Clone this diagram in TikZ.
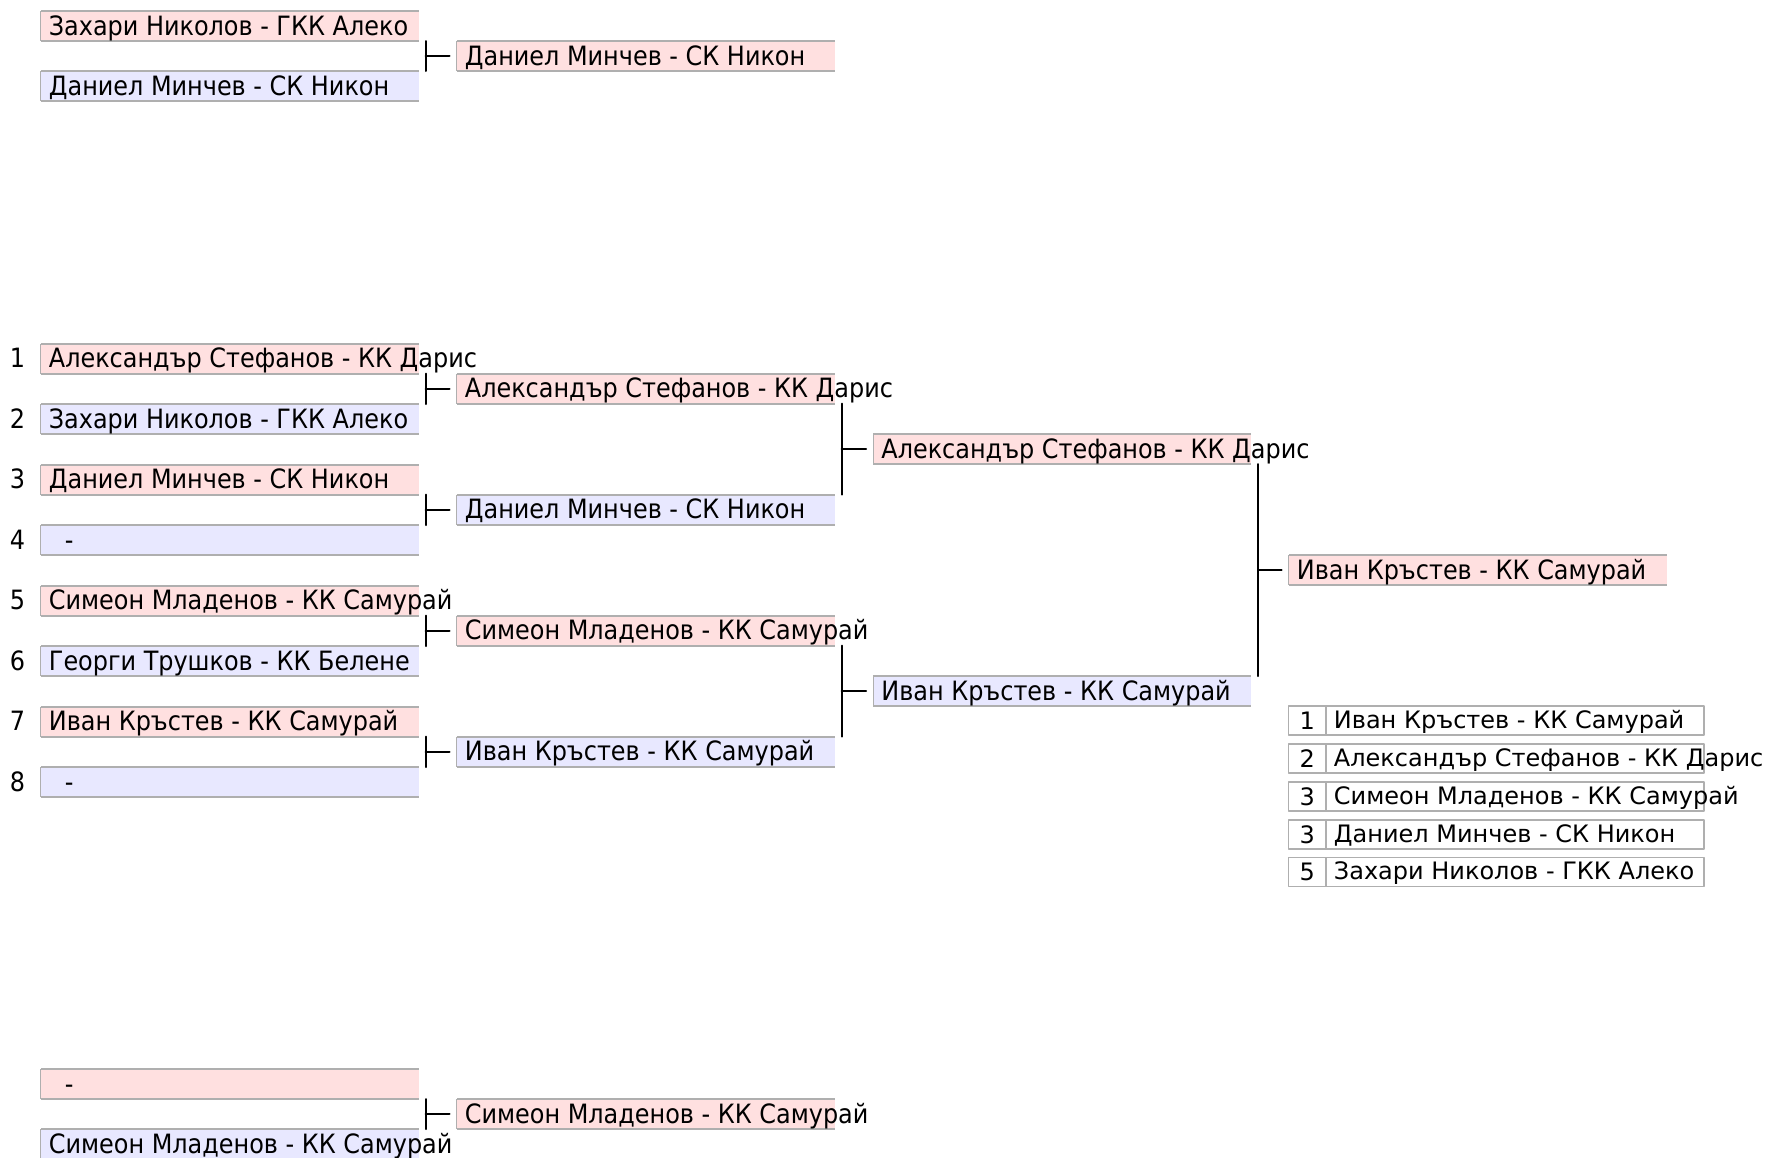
\documentclass[tikz,border=0pt]{standalone}
\usepackage{fontspec}
\setmainfont{DejaVu Sans}
\newfontfamily\condfont{DejaVu Sans Condensed}
\usetikzlibrary{calc}
\definecolor{pinkfill}{RGB}{255,224,224}
\definecolor{bluefill}{RGB}{232,232,255}
\definecolor{edgegray}{RGB}{175,175,175}
% a bracket slot: filled box, rim on three sides, then its text
\newcommand{\player}[5]{%
  \node[#1] (#2) at (#3,#4) {};
  \draw[rim] (#2.north east) -- (#2.north west) (#2.south west) -- (#2.south east);
  \draw[rim, line width=0.5pt] (#2.north west) -- (#2.south west);
  \node[plname] (#2-t) at ($(#2.south west)+(8,-6)$) {#5};}
% two slots joined into the next one
\newcommand{\joinpair}[3]{%
  \coordinate (#1-j) at ($(#1.south east)+(7,0)$);
  \draw[link] (#1-j) -- ($(#2.north east)+(7,0)$);
  \draw[link] (#1-j |- #3.west) -- ($(#3.west)+(-7,0)$);}
% one line of the final table
\newcommand{\rankrow}[4]{%
  \node[numcell] (#1n) at (1288.5,#2) {#3};
  \node[namecell] (#1) at (#1n.north east) {};
  \node[tabname] (#1-t) at ($(#1.south west)+(7.5,-7)$) {#4};}

\begin{document}
\begin{tikzpicture}[x=0.5pt, y=-0.5pt, line join=round, line cap=round,
  font=\condfont\fontsize{13.3}{16}\selectfont,
  slotbox/.style={minimum width=189pt, minimum height=15pt, inner sep=0pt, outer sep=0pt, anchor=north west},
  homebox/.style={slotbox, fill=pinkfill},
  awaybox/.style={slotbox, fill=bluefill},
  rim/.style={draw=edgegray, line width=1pt, line cap=butt},
  plname/.style={anchor=base west, inner sep=0pt},
  seedno/.style={anchor=base, inner sep=0pt},
  link/.style={line width=1pt},
  numcell/.style={draw=edgegray, line width=0.6pt, fill=white, minimum width=18.75pt, minimum height=14.5pt, inner sep=0pt, outer sep=0pt, anchor=north west, font=\fontsize{12}{14}\selectfont},
  namecell/.style={draw=edgegray, line width=0.6pt, fill=white, minimum width=189pt, minimum height=14.5pt, inner sep=0pt, outer sep=0pt, anchor=north west},
  tabname/.style={anchor=base west, inner sep=0pt, font=\fontsize{12}{14}\selectfont}]
	\useasboundingbox (0,0) rectangle (1766,1157);
	% upper small bracket
	\player{homebox}{u1}{40.5}{11}{Захари Николов - ГКК Алеко}
	\player{awaybox}{u2}{40.5}{71}{Даниел Минчев - СК Никон}
	\player{homebox}{uw}{456.5}{41}{Даниел Минчев - СК Никон}
	\joinpair{u1}{u2}{uw}
	% main bracket, round 1
	\player{homebox}{a1}{40.5}{343.5}{Александър Стефанов - КК Дарис}
	\player{awaybox}{a2}{40.5}{404}{Захари Николов - ГКК Алеко}
	\player{homebox}{a3}{40.5}{464.5}{Даниел Минчев - СК Никон}
	\player{awaybox}{a4}{40.5}{525}{\hspace{8pt}-}
	\player{homebox}{a5}{40.5}{585.5}{Симеон Младенов - КК Самурай}
	\player{awaybox}{a6}{40.5}{646}{Георги Трушков - КК Белене}
	\player{homebox}{a7}{40.5}{706.5}{Иван Кръстев - КК Самурай}
	\player{awaybox}{a8}{40.5}{767}{\hspace{8pt}-}
	\node[seedno] (s1) at ($(a1.south west)+(-23,-6)$) {1};
	\node[seedno] (s2) at ($(a2.south west)+(-23,-6)$) {2};
	\node[seedno] (s3) at ($(a3.south west)+(-23,-6)$) {3};
	\node[seedno] (s4) at ($(a4.south west)+(-23,-6)$) {4};
	\node[seedno] (s5) at ($(a5.south west)+(-23,-6)$) {5};
	\node[seedno] (s6) at ($(a6.south west)+(-23,-6)$) {6};
	\node[seedno] (s7) at ($(a7.south west)+(-23,-6)$) {7};
	\node[seedno] (s8) at ($(a8.south west)+(-23,-6)$) {8};
	% round 2
	\player{homebox}{b1}{456.5}{373.5}{Александър Стефанов - КК Дарис}
	\player{awaybox}{b2}{456.5}{494.5}{Даниел Минчев - СК Никон}
	\player{homebox}{b3}{456.5}{615.5}{Симеон Младенов - КК Самурай}
	\player{awaybox}{b4}{456.5}{736.5}{Иван Кръстев - КК Самурай}
	\joinpair{a1}{a2}{b1}
	\joinpair{a3}{a4}{b2}
	\joinpair{a5}{a6}{b3}
	\joinpair{a7}{a8}{b4}
	% round 3 and final
	\player{homebox}{c1}{873}{434}{Александър Стефанов - КК Дарис}
	\player{awaybox}{c2}{873}{676}{Иван Кръстев - КК Самурай}
	\joinpair{b1}{b2}{c1}
	\joinpair{b3}{b4}{c2}
	\player{homebox}{f1}{1288.5}{555}{Иван Кръстев - КК Самурай}
	\joinpair{c1}{c2}{f1}
	% ranking
	\rankrow{k1}{706}{1}{Иван Кръстев - КК Самурай}
	\rankrow{k2}{744}{2}{Александър Стефанов - КК Дарис}
	\rankrow{k3}{782}{3}{Симеон Младенов - КК Самурай}
	\rankrow{k4}{820}{3}{Даниел Минчев - СК Никон}
	\rankrow{k5}{857.5}{5}{Захари Николов - ГКК Алеко}
	% lower small bracket
	\player{homebox}{d1}{40.5}{1069}{\hspace{8pt}-}
	\player{awaybox}{d2}{40.5}{1129}{Симеон Младенов - КК Самурай}
	\player{homebox}{dw}{456.5}{1099}{Симеон Младенов - КК Самурай}
	\joinpair{d1}{d2}{dw}
\end{tikzpicture}
\end{document}
